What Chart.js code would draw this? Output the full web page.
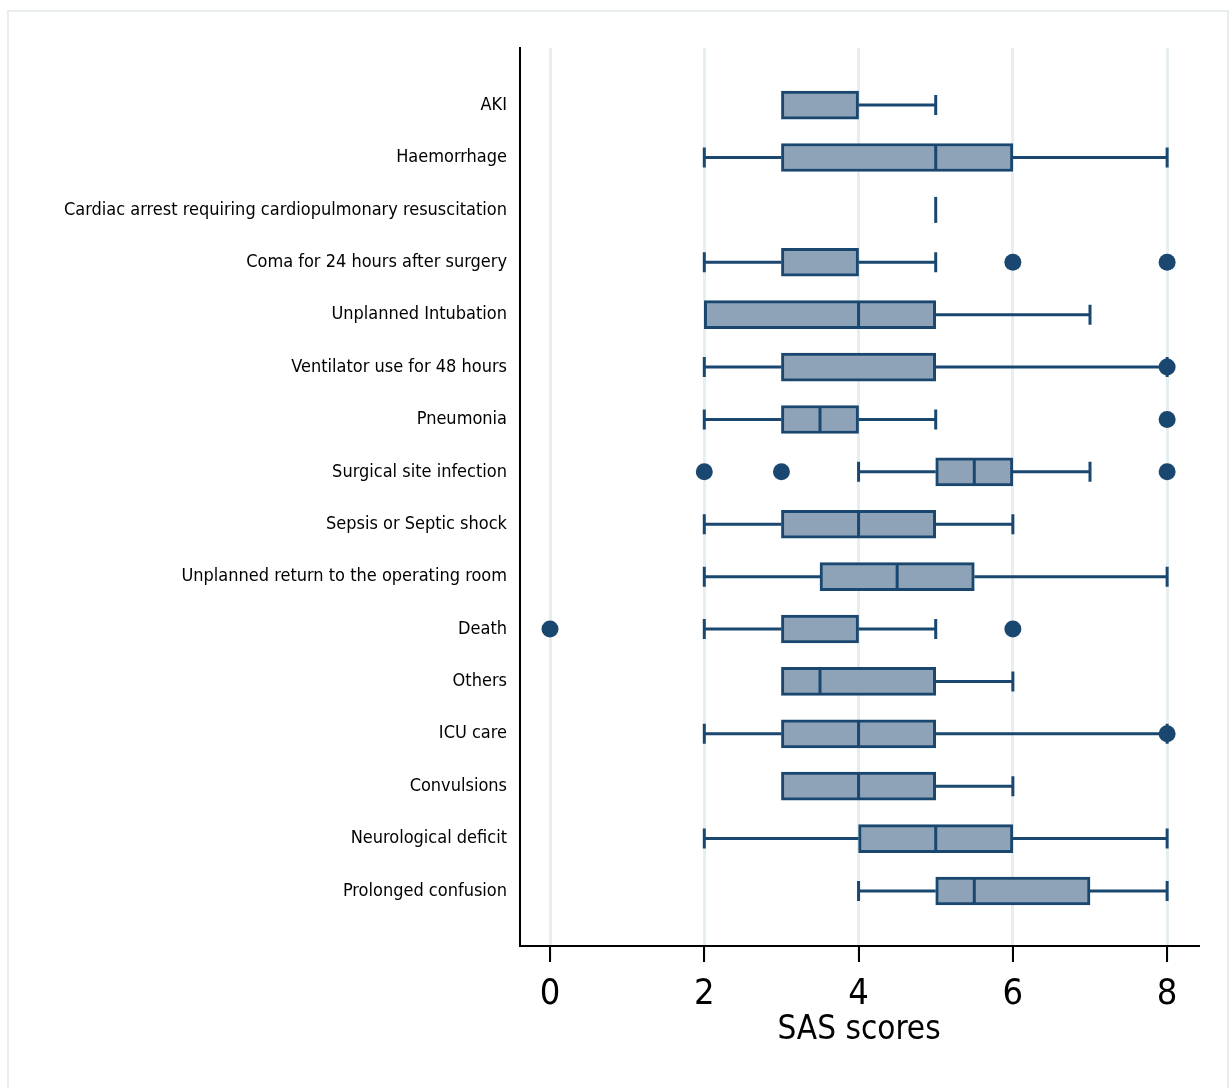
<!DOCTYPE html>
<html>
<head>
<meta charset="utf-8">
<title>SAS scores by complication</title>
<script src="https://cdn.jsdelivr.net/npm/chart.js@4.4.1/dist/chart.umd.min.js"></script>
<style>
  html, body { margin: 0; padding: 0; background: #ffffff; }
  #wrap { position: relative; width: 1230px; height: 1088px; }
  #frame {
    position: absolute; left: 7px; top: 10px; width: 1222px; height: 1090px;
    border-left: 2px solid #e8eef0; border-top: 2px solid #e8eef0; border-right: 2px solid #e8eef0;
    box-sizing: border-box;
  }
  canvas { position: absolute; left: 0; top: 0; }
</style>
</head>
<body>
<div id="wrap">
  <div id="frame"></div>
  <canvas id="boxChart" width="1230" height="1088"></canvas>
</div>
<script>
// categories, top to bottom
const categories = [
  "AKI",
  "Haemorrhage",
  "Cardiac arrest requiring cardiopulmonary resuscitation",
  "Coma for 24 hours after surgery",
  "Unplanned Intubation",
  "Ventilator use for 48 hours",
  "Pneumonia",
  "Surgical site infection",
  "Sepsis or Septic shock",
  "Unplanned return to the operating room",
  "Death",
  "Others",
  "ICU care",
  "Convulsions",
  "Neurological deficit",
  "Prolonged confusion"
];

// box plot statistics (SAS scores)
const whiskerLow  = [3, 2, 5, 2, 2, 2, 2,   4,   2, 2,   2, 3,   2, 3, 2, 4];
const q1          = [3, 3, 5, 3, 2, 3, 3,   5,   3, 3.5, 3, 3,   3, 3, 4, 5];
const median      = [3, 5, 5, 3, 4, 3, 3.5, 5.5, 4, 4.5, 3, 3.5, 4, 4, 5, 5.5];
const q3          = [4, 6, 5, 4, 5, 5, 4,   6,   5, 5.5, 4, 5,   5, 5, 6, 7];
const whiskerHigh = [5, 8, 5, 5, 7, 8, 5,   7,   6, 8,   5, 6,   8, 6, 8, 8];
const outliers    = [[], [], [], [6, 8], [], [8], [8], [2, 3, 8], [], [], [0, 6], [], [8], [], [], []];

const xTicks = [0, 2, 4, 6, 8];

const navy = "#1a476f";
const boxFill = "#8ea3b7";
const gridColor = "#e6eef0";
const fontFamily = "'DejaVu Sans Condensed', 'Liberation Sans', Arial, sans-serif";

// build chart data from the arrays above
const boxData = categories.map((c, i) => ({ y: i, x: [q1[i], q3[i]] }));
const outlierData = [];
outliers.forEach((list, i) => list.forEach(v => outlierData.push({ x: v, y: i })));

// whiskers, caps, median lines and the x tick marks
const boxPlotLines = {
  id: "boxPlotLines",
  afterDatasetsDraw(chart) {
    const ctx = chart.ctx;
    const xs = chart.scales.x;
    const ys = chart.scales.y;
    ctx.save();
    ctx.strokeStyle = navy;
    ctx.lineWidth = 3;
    ctx.lineCap = "butt";
    categories.forEach((c, i) => {
      const py = ys.getPixelForValue(i);
      const pLow = xs.getPixelForValue(whiskerLow[i]);
      const pQ1 = xs.getPixelForValue(q1[i]);
      const pMed = xs.getPixelForValue(median[i]);
      const pQ3 = xs.getPixelForValue(q3[i]);
      const pHigh = xs.getPixelForValue(whiskerHigh[i]);
      ctx.beginPath();
      // whiskers with caps, only where they stick out of the box
      if (whiskerLow[i] < q1[i]) {
        ctx.moveTo(pLow, py); ctx.lineTo(pQ1, py);
        ctx.moveTo(pLow, py - 10); ctx.lineTo(pLow, py + 10);
      }
      if (whiskerHigh[i] > q3[i]) {
        ctx.moveTo(pQ3, py); ctx.lineTo(pHigh, py);
        ctx.moveTo(pHigh, py - 10); ctx.lineTo(pHigh, py + 10);
      }
      // median (also marks a collapsed box)
      if (q1[i] === q3[i] || (median[i] > q1[i] && median[i] < q3[i])) {
        ctx.moveTo(pMed, py - 13); ctx.lineTo(pMed, py + 13);
      }
      ctx.stroke();
    });

    // tick marks below the x axis
    const axisY = chart.chartArea.bottom;
    ctx.fillStyle = "#000000";
    xTicks.forEach(v => {
      const px = Math.round(xs.getPixelForValue(v));
      ctx.fillRect(px - 1, axisY, 2, 16);
    });
    ctx.restore();
  }
};

Chart.defaults.font.family = fontFamily;
Chart.defaults.color = "#000000";

new Chart(document.getElementById("boxChart").getContext("2d"), {
  type: "bar",
  data: {
    datasets: [
      {
        type: "bar",
        indexAxis: "y",
        data: boxData,
        backgroundColor: boxFill,
        borderColor: navy,
        borderWidth: 3,
        borderSkipped: false,
        barThickness: 28,
        xAxisID: "x",
        yAxisID: "y"
      },
      {
        type: "scatter",
        data: outlierData,
        backgroundColor: navy,
        borderColor: navy,
        borderWidth: 0,
        pointRadius: 8.5,
        xAxisID: "x",
        yAxisID: "y"
      }
    ]
  },
  options: {
    responsive: false,
    animation: false,
    layout: { padding: { top: 48, right: 32, left: 0, bottom: 0 } },
    plugins: {
      legend: { display: false },
      tooltip: { enabled: false }
    },
    scales: {
      x: {
        type: "linear",
        position: "bottom",
        offset: false,
        min: -0.389,
        max: 8.4,
        afterBuildTicks: scale => { scale.ticks = xTicks.map(v => ({ value: v })); },
        afterFit: scale => { scale.height = 142; },
        grid: {
          offset: false,
          color: gridColor,
          lineWidth: 3,
          tickLength: 15
        },
        border: { color: "#000000", width: 2 },
        ticks: {
          font: { size: 36 },
          padding: 12,
          maxRotation: 0
        },
        title: {
          display: true,
          text: "SAS scores",
          font: { size: 33 },
          padding: { top: 0, bottom: 38 }
        }
      },
      y: {
        type: "linear",
        position: "left",
        offset: false,
        reverse: true,
        min: -1.09,
        max: 16.05,
        afterBuildTicks: scale => { scale.ticks = categories.map((c, i) => ({ value: i })); },
        afterFit: scale => { scale.width = 520; },
        grid: { display: false, drawTicks: false, offset: false },
        border: { color: "#000000", width: 2 },
        ticks: {
          font: { size: 18 },
          padding: 13,
          callback: value => categories[value]
        }
      }
    }
  },
  plugins: [boxPlotLines]
});
</script>
</body>
</html>
